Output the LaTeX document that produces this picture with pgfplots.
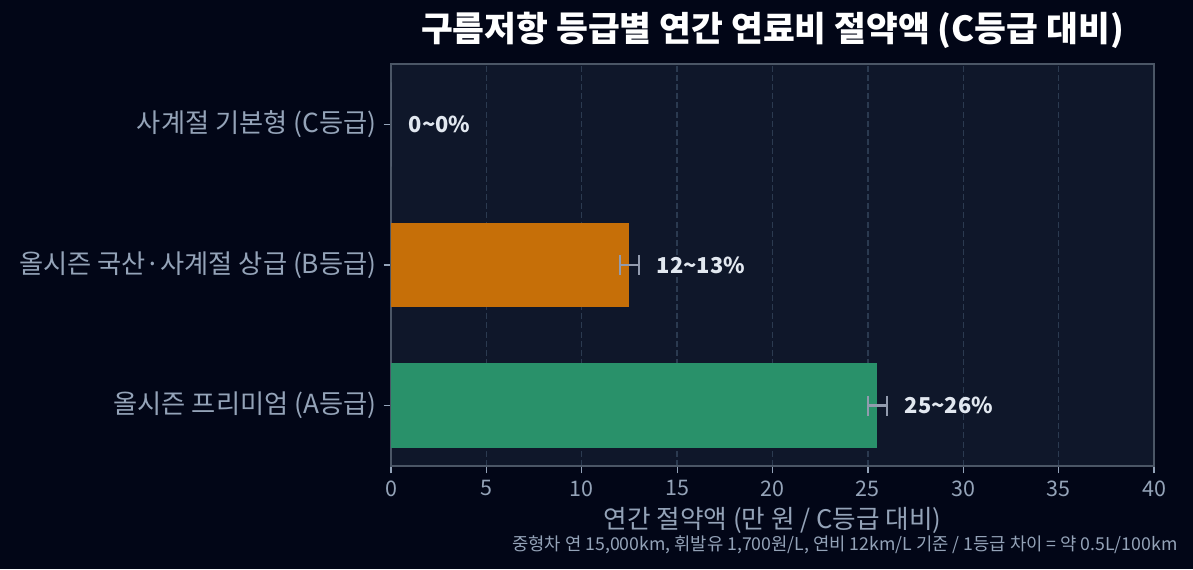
\documentclass[border=0pt]{standalone}
\usepackage{fontspec}
\setmainfont{Noto Sans CJK KR}
\usepackage{pgfplots}
\pgfplotsset{compat=1.18}
\definecolor{bg}{HTML}{020617}
\definecolor{axbg}{HTML}{0F172A}
\definecolor{spine}{HTML}{4B5666}
\definecolor{tickc}{HTML}{94A3B8}
\definecolor{gridc}{HTML}{2B3A50}
\definecolor{orangeb}{HTML}{C66F08}
\definecolor{greenb}{HTML}{29916A}
\definecolor{errc}{HTML}{929BAE}
\definecolor{valc}{HTML}{E2E8F0}
\begin{document}
\begin{tikzpicture}
\fill[bg] (0,0) rectangle (572.64pt,273.12pt);
\begin{axis}[
  at={(187.68pt,49.44pt)}, anchor=south west,
  scale only axis, width=366.24pt, height=192.96pt,
  xmin=0, xmax=40, ymin=-0.43, ymax=2.43,
  axis background/.style={fill=axbg},
  axis line style={color=spine, line width=0.8pt},
  xtick={0,5,...,40}, ytick={0,1,2},
  yticklabels={올시즌 프리미엄 (A등급), 올시즌 국산·사계절 상급 (B등급), 사계절 기본형 (C등급)},
  tick align=outside, tick pos=left,
  major tick length=3.5pt,
  tick style={color=tickc, line width=0.6pt},
  xmajorgrids, grid style={dash pattern=on 2.9pt off 1.5pt, color=gridc, line width=0.7pt},
  x tick label style={font=\fontsize{10.3}{12}\selectfont, color=tickc},
  y tick label style={font=\fontsize{12.6}{14}\selectfont, color=tickc},
  /pgf/number format/assume math mode=true,
  clip=false,
]
\addplot[xbar, bar width=0.6, bar shift=0pt, fill=greenb, draw=none] coordinates {(25.5,0)};
\addplot[xbar, bar width=0.6, bar shift=0pt, fill=orangeb, draw=none] coordinates {(12.5,1)};
\addplot[xbar, bar width=0.6, bar shift=0pt, fill=tickc, draw=none] coordinates {(0,2)};
\addplot[draw=none, mark=none,
  error bars/.cd, x dir=both, x explicit, error mark=|,
  error bar style={draw=errc, line width=1.2pt},
  error mark options={draw=errc, line width=1.2pt, mark size=4.8pt}]
  coordinates {(12.5,1) +- (0.5,0) (25.5,0) +- (0.5,0)};
\node[anchor=west, font=\bfseries\fontsize{10.5}{12}\selectfont, color=valc] at (axis cs:0.55,2) {0\textasciitilde0\%};
\node[anchor=west, font=\bfseries\fontsize{10.5}{12}\selectfont, color=valc] at (axis cs:13.55,1) {12\textasciitilde13\%};
\node[anchor=west, font=\bfseries\fontsize{10.5}{12}\selectfont, color=valc] at (axis cs:26.55,0) {25\textasciitilde26\%};
\end{axis}
\node[font=\bfseries\fontsize{16.6}{19}\selectfont, color=white] at (370.8pt,258.7pt) {구름저항 등급별 연간 연료비 절약액 (C등급 대비)};
\node[font=\fontsize{12.3}{14}\selectfont, color=tickc] at (370.8pt,23.5pt) {연간 절약액 (만 원 / C등급 대비)};
\node[anchor=east, inner sep=0pt, font=\fontsize{8.5}{10}\selectfont, color=tickc] at (565.4pt,11.52pt) {중형차 연 15,000km, 휘발유 1,700원/L, 연비 12km/L 기준 / 1등급 차이 = 약 0.5L/100km};
\pgfresetboundingbox
\path (0,0) rectangle (572.64pt,273.12pt);
\end{tikzpicture}
\end{document}
